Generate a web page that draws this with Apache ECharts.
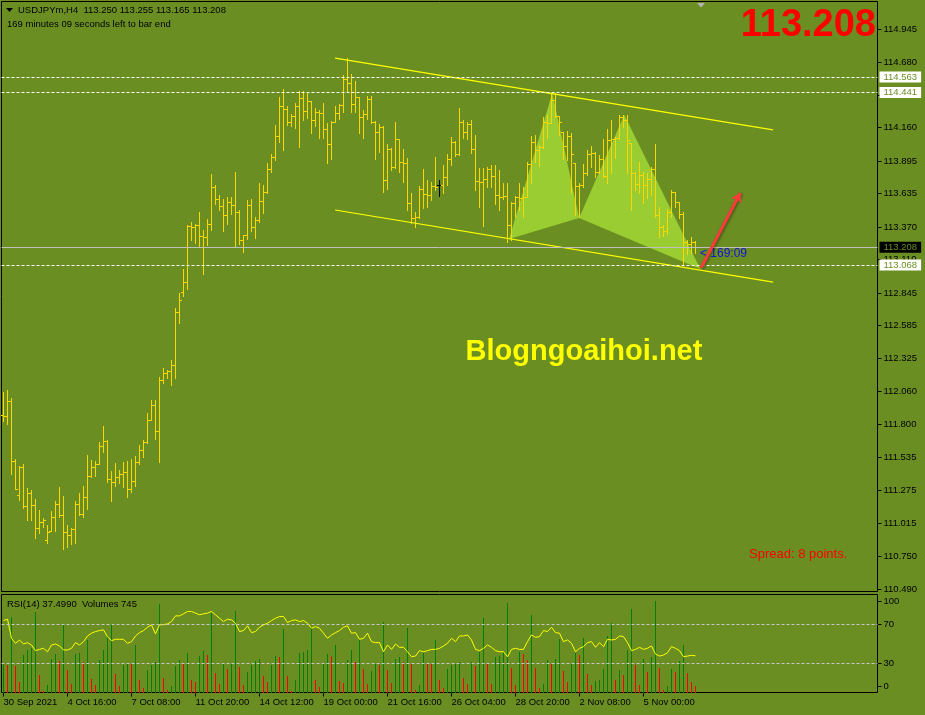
<!DOCTYPE html>
<html><head><meta charset="utf-8">
<script src="https://cdn.jsdelivr.net/npm/echarts@6/dist/echarts.min.js"></script>
<style>html,body{margin:0;padding:0;background:#6b8e23;}#c{width:925px;height:715px;}</style>
</head><body><div id="c"></div><script>
// ---- data ----
const opens = [
111.874,111.866,111.986,111.508,111.238,111.461,111.150,111.253,111.158,110.975,
111.023,110.880,110.951,111.063,111.166,111.078,110.943,110.919,110.967,111.166,
111.086,111.222,111.389,111.461,111.484,111.628,111.667,111.365,111.341,111.381,
111.405,111.421,111.285,111.349,111.500,111.596,111.659,111.834,111.954,111.747,
112.153,112.208,112.224,112.272,112.694,112.850,112.932,113.378,113.370,113.386,
113.298,113.291,113.394,113.688,113.593,113.537,113.466,113.569,113.545,113.489,
113.267,113.306,113.545,113.370,113.426,113.577,113.648,113.831,113.927,114.094,
114.333,114.309,114.205,114.253,114.333,114.396,114.293,114.372,114.221,114.285,
114.280,114.150,114.030,114.205,114.277,114.341,114.547,114.516,114.349,114.404,
114.245,114.269,114.388,114.205,114.126,114.165,113.744,113.990,113.847,114.070,
113.887,113.879,113.561,113.442,113.450,113.672,113.632,113.625,113.696,113.704,
113.704,113.768,113.911,114.046,113.950,114.205,114.126,114.189,113.990,113.736,
113.728,113.752,113.831,113.775,113.625,113.609,113.617,113.386,113.561,113.609,
113.601,113.609,113.871,114.046,113.982,114.006,114.205,114.197,114.380,114.253,
114.126,114.014,114.094,113.879,113.696,113.704,113.799,113.950,113.958,113.807,
113.911,113.775,114.062,114.070,114.078,114.245,114.221,114.038,113.799,113.712,
113.784,113.704,113.752,113.831,113.466,113.370,113.338,113.489,113.648,113.569,
113.473,113.251,113.235,113.250];
const highs = [
112.057,112.073,112.009,111.524,111.469,111.484,111.293,111.277,111.206,111.118,
111.055,110.999,111.110,111.190,111.301,111.230,110.999,110.975,111.190,111.253,
111.309,111.556,111.516,111.508,111.659,111.786,111.675,111.429,111.492,111.437,
111.500,111.508,111.524,111.548,111.635,111.675,111.890,111.994,111.994,112.176,
112.248,112.232,112.312,112.726,112.845,113.036,113.386,113.410,113.394,113.489,
113.346,113.434,113.792,113.704,113.625,113.593,113.609,113.609,113.808,113.505,
113.306,113.585,113.593,113.450,113.720,113.704,113.879,113.950,114.181,114.404,
114.468,114.333,114.269,114.357,114.452,114.452,114.436,114.372,114.317,114.301,
114.357,114.197,114.213,114.333,114.349,114.579,114.714,114.587,114.532,114.404,
114.301,114.412,114.412,114.213,114.189,114.173,114.030,113.998,114.205,114.070,
113.990,113.919,113.640,113.489,113.696,113.831,113.744,113.728,113.927,113.744,
113.863,113.950,114.086,114.054,114.317,114.221,114.205,114.221,114.102,113.839,
113.839,113.847,113.863,113.863,113.823,113.720,113.720,113.569,113.617,113.720,
113.688,113.887,114.094,114.102,114.022,114.245,114.261,114.436,114.436,114.253,
114.126,114.134,114.118,113.879,113.720,113.871,113.982,114.014,113.966,113.943,
114.070,114.150,114.221,114.086,114.261,114.261,114.261,114.038,113.807,113.887,
113.807,113.799,113.847,114.030,113.529,113.386,113.513,113.664,113.648,113.569,
113.489,113.267,113.291,113.255];
const lows = [
111.826,111.802,111.405,111.285,111.198,111.134,111.039,111.039,110.896,110.935,
110.983,110.856,110.951,110.951,111.063,110.808,110.824,110.848,110.856,111.078,
111.063,111.126,111.381,111.389,111.484,111.580,111.341,111.190,111.309,111.333,
111.301,111.222,111.261,111.309,111.484,111.540,111.651,111.834,111.683,111.500,
112.129,112.169,112.113,112.169,112.606,112.821,112.877,113.267,113.243,113.211,
112.996,113.227,113.346,113.553,113.505,113.338,113.394,113.473,113.219,113.235,
113.171,113.275,113.338,113.283,113.410,113.481,113.640,113.807,113.903,114.046,
113.982,114.181,114.173,114.158,114.006,114.221,114.237,114.118,114.173,114.078,
114.078,113.879,113.911,114.205,114.229,114.285,114.444,114.285,114.285,114.118,
114.078,114.229,114.197,113.911,113.966,113.648,113.672,113.823,113.839,113.807,
113.728,113.505,113.402,113.370,113.442,113.521,113.529,113.585,113.664,113.617,
113.640,113.704,113.863,113.935,113.943,114.078,114.070,113.958,113.664,113.529,
113.378,113.688,113.688,113.553,113.505,113.593,113.251,113.267,113.450,113.505,
113.450,113.609,113.720,113.887,113.855,113.998,114.078,114.197,114.245,114.102,
113.911,113.903,113.640,113.466,113.450,113.688,113.784,113.847,113.768,113.799,
113.768,113.720,113.799,113.919,114.070,114.165,113.799,113.505,113.664,113.640,
113.561,113.601,113.625,113.450,113.291,113.298,113.314,113.450,113.529,113.442,
113.068,113.156,113.164,113.165];
const closes = [
111.866,111.986,111.508,111.285,111.461,111.150,111.253,111.158,110.975,111.023,
111.039,110.943,111.063,111.166,111.078,110.943,110.919,110.967,111.166,111.086,
111.222,111.389,111.461,111.484,111.628,111.667,111.365,111.341,111.381,111.405,
111.421,111.285,111.349,111.500,111.596,111.659,111.834,111.954,111.747,112.153,
112.208,112.224,112.272,112.694,112.789,112.932,113.378,113.370,113.386,113.298,
113.291,113.394,113.688,113.593,113.537,113.466,113.569,113.545,113.489,113.267,
113.306,113.545,113.370,113.426,113.577,113.648,113.831,113.927,114.094,114.333,
114.309,114.205,114.253,114.333,114.396,114.293,114.372,114.221,114.285,114.280,
114.150,114.030,114.205,114.277,114.341,114.547,114.516,114.349,114.404,114.245,
114.269,114.388,114.205,114.126,114.165,113.744,113.990,113.847,114.070,113.887,
113.879,113.561,113.442,113.450,113.672,113.632,113.625,113.696,113.690,113.704,
113.768,113.911,114.046,113.950,114.205,114.126,114.189,113.990,113.736,113.728,
113.752,113.831,113.775,113.625,113.609,113.617,113.386,113.561,113.609,113.601,
113.609,113.871,114.046,113.982,114.006,114.205,114.197,114.380,114.253,114.205,
114.014,114.094,113.950,113.696,113.704,113.799,113.950,113.958,113.807,113.911,
113.775,114.062,114.070,114.078,114.245,114.221,114.062,113.799,113.712,113.784,
113.704,113.752,113.831,113.466,113.370,113.338,113.489,113.648,113.569,113.473,
113.251,113.235,113.251,113.208];
const rsi = [
73.4,74.8,55.3,50.2,53.6,49.5,50.9,48.5,42.7,44.0,
45.1,41.6,48.5,49.5,47.5,43.4,43.4,45.1,50.9,48.5,
51.9,57.7,60.5,62.2,63.2,63.9,57.0,52.9,54.3,54.3,
54.3,50.2,51.9,57.7,61.1,63.2,66.6,69.0,59.8,69.0,
69.3,70.0,72.4,78.2,78.2,80.3,82.7,82.7,81.0,79.3,
80.3,81.0,82.7,79.3,75.8,72.4,74.8,74.1,70.7,62.2,
63.2,68.0,61.1,62.2,66.6,69.0,70.7,73.4,75.8,77.5,
77.5,71.4,73.4,74.1,72.4,73.4,70.7,65.6,67.3,65.6,
60.5,55.3,58.7,61.1,63.2,66.6,68.0,60.5,61.1,54.3,
55.3,60.5,51.9,50.9,50.9,41.6,48.5,44.0,49.5,46.1,
46.1,41.6,36.5,37.2,42.7,41.6,42.7,44.0,44.0,45.1,
47.5,50.2,55.3,51.9,57.7,57.7,58.7,53.6,44.0,42.7,
45.1,48.5,46.1,42.7,41.6,41.6,36.5,44.0,45.1,44.0,
44.0,51.9,58.7,56.3,57.0,63.2,62.2,66.6,61.1,60.5,
51.9,53.6,50.2,41.6,45.1,46.8,50.9,51.9,46.1,50.9,
46.8,54.3,53.6,54.3,57.7,57.0,50.9,42.7,44.0,46.1,
44.0,45.1,47.5,39.2,37.2,38.2,40.6,46.8,45.1,42.7,
36.5,37.2,37.9,37.5];
const volumes = [
3444,3400,9266,3198,1271,4551,5248,5494,9840,2091,
164,861,4141,4674,3813,8364,2788,984,4674,4838,
3731,6478,1681,861,4018,5166,6806,8364,2296,738,
3321,3526,3444,5781,1476,533,2788,3321,3731,10906,
1804,246,738,3198,3936,3526,4838,1476,1271,4428,
5043,4551,9758,2378,984,3608,2911,3526,10004,3116,
861,2501,3321,3854,4141,1968,1271,3321,4428,4346,
7790,1968,164,1558,4838,4961,5166,8036,1558,656,
3444,4674,4428,5781,1394,1148,3936,5248,3731,6601,
2829,984,2583,3444,3321,8610,2706,1148,4141,4346,
3731,7954,3526,246,861,4838,3608,3444,6396,1476,
574,2911,3321,3444,3731,1804,984,3731,3198,4961,
9143,3526,1066,4346,4428,4961,10988,2993,861,4961,
4674,3936,9471,2993,533,984,3936,3444,4059,6601,
2583,1271,3444,4838,4551,6683,2296,861,1353,1476,
2829,6888,8569,1476,2706,2091,5166,10209,3321,861,
4141,2460,4346,11193,3034,328,738,2829,2460,3813,
5781,2337,1230,745];
const timeTickIndex = [0,16,32,48,64,80,96,112,128,144,160];
const timeTickLabels = ["30 Sep 2021","4 Oct 16:00","7 Oct 08:00","11 Oct 20:00","14 Oct 12:00","19 Oct 00:00","21 Oct 16:00","26 Oct 04:00","28 Oct 20:00","2 Nov 08:00","5 Nov 00:00"];
const priceTicks = [114.945,114.680,114.420,114.160,113.895,113.635,113.370,113.110,112.845,112.585,112.325,112.060,111.800,111.535,111.275,111.015,110.750,110.490];
const rsiTickValues = [93,70,30,6.5];
const rsiTickLabels = ["100","70","30","0"];
const rsiLevels = [70,30];
const dashedLevels = [114.563,114.441,113.068];
const bidPrice = 113.208;
const upperChannel = [[82.9,114.714],[192.4,114.142]];
const lowerChannel = [[82.9,113.505],[192.4,112.932]];
const patternTriangles = [
  [126.4,113.275, 137.2,114.436, 143.9,113.442],
  [143.9,113.442, 155.2,114.261, 174.2,113.036]
];
const arrowFrom = [174.4,113.045];
const arrowTo = [184.2,113.640];

// ---- chart ----
const FONT = '"Liberation Sans", Arial, sans-serif';
const chart = echarts.init(document.getElementById('c'), null, {renderer:'canvas'});
const ohlcData = opens.map((o,i)=>[i,o,highs[i],lows[i],closes[i]]);
const volData = volumes.map((v,i)=>[i,v,i>0?volumes[i-1]:0]);
const rsiData = rsi.map((v,i)=>[i,v]);

const option = {
  animation:false,
  backgroundColor:'#6b8e23',
  grid:[
    {left:1.5, top:1.5, width:876, height:590, show:true, borderColor:'#000', borderWidth:1, backgroundColor:'transparent'},
    {left:1.5, top:594.5, width:876, height:98, show:true, borderColor:'#000', borderWidth:1, backgroundColor:'transparent'}
  ],
  xAxis:[
    {type:'value', gridIndex:0, min:-0.5, max:218.5, show:false, axisLine:{onZero:false}},
    {type:'value', gridIndex:1, min:-0.5, max:218.5,
      axisLine:{show:false, onZero:false}, splitLine:{show:false},
      axisTick:{show:true, customValues:timeTickIndex, length:4, lineStyle:{color:'#000'}},
      axisLabel:{show:true, customValues:timeTickIndex, align:'left', margin:5,
        formatter:(v)=>timeTickLabels[timeTickIndex.indexOf(Math.round(v))] || '',
        color:'#000', fontSize:9.5, fontFamily:FONT}}
  ],
  yAxis:[
    {type:'value', gridIndex:0, position:'right', min:110.470, max:115.164,
      axisLine:{show:false, onZero:false}, splitLine:{show:false},
      axisTick:{show:true, customValues:priceTicks, length:4, lineStyle:{color:'#000'}},
      axisLabel:{show:true, customValues:priceTicks, margin:6, formatter:(v)=>v.toFixed(3),
        color:'#000', fontSize:9.5, fontFamily:FONT}},
    {type:'value', gridIndex:1, position:'right', min:0, max:100,
      axisLine:{show:false, onZero:false}, splitLine:{show:false},
      axisTick:{show:true, customValues:rsiTickValues, length:4, lineStyle:{color:'#000'}},
      axisLabel:{show:true, customValues:rsiTickValues, margin:6,
        formatter:(v)=>rsiTickLabels[rsiTickValues.indexOf(v)] || '',
        color:'#000', fontSize:9.5, fontFamily:FONT}},
    {type:'value', gridIndex:1, min:0, max:12050, show:false, axisLine:{onZero:false}}
  ],
  series:[
    {type:'custom', name:'pattern', xAxisIndex:0, yAxisIndex:0, z:1, silent:true,
      encode:{x:[0,2,4], y:[1,3,5]},
      data:patternTriangles,
      renderItem:(params, api)=>{
        const pts=[api.coord([api.value(0),api.value(1)]),api.coord([api.value(2),api.value(3)]),api.coord([api.value(4),api.value(5)])];
        return {type:'polygon', shape:{points:pts}, style:{fill:'#9acd32'}};
      }},
    {type:'custom', name:'bars', xAxisIndex:0, yAxisIndex:0, z:3, silent:true,
      encode:{x:0, y:[1,2,3,4]},
      data:ohlcData,
      renderItem:(params, api)=>{
        const i=api.value(0), o=api.value(1), h=api.value(2), l=api.value(3), c=api.value(4);
        const pH=api.coord([i,h]), pL=api.coord([i,l]), pO=api.coord([i,o]), pC=api.coord([i,c]);
        const col=Math.floor(pH[0]);
        const xc=col+0.5;
        const color=Math.abs(o-c)<0.0005?'#000000':'#ffd700';
        const yo=Math.round(pO[1])+0.5, yc=Math.round(pC[1])+0.5;
        return {type:'group', children:[
          {type:'line', shape:{x1:xc,y1:Math.round(pH[1]),x2:xc,y2:Math.round(pL[1])+1}, style:{stroke:color,lineWidth:1}},
          {type:'line', shape:{x1:col-2,y1:yo,x2:col,y2:yo}, style:{stroke:color,lineWidth:1}},
          {type:'line', shape:{x1:col+1,y1:yc,x2:col+3,y2:yc}, style:{stroke:color,lineWidth:1}}
        ]};
      },
      markLine:{silent:true, symbol:'none', animation:false, precision:3,
        label:{show:true, position:'end', distance:2, formatter:(p)=>Number(p.value).toFixed(3),
          color:'#6b8e23', backgroundColor:'#ffffff', padding:[1,4,0,4], fontSize:9.5, fontFamily:FONT},
        data:[
          ...dashedLevels.map(v=>({yAxis:v, lineStyle:{color:'#ffffff', type:[3,2], width:1}})),
          {yAxis:bidPrice, lineStyle:{color:'#c0c0c0', type:'solid', width:1}, label:{backgroundColor:'#000000', color:'#6b8e23'}}
        ]}
    },
    {type:'line', name:'upper', xAxisIndex:0, yAxisIndex:0, z:4, data:upperChannel, symbol:'none', silent:true,
      lineStyle:{color:'#ffff00', width:1.2}},
    {type:'line', name:'lower', xAxisIndex:0, yAxisIndex:0, z:4, data:lowerChannel, symbol:'none', silent:true,
      lineStyle:{color:'#ffff00', width:1.2},
      markLine:{silent:true, animation:false, symbol:['none','arrow'], symbolSize:9, label:{show:false},
        lineStyle:{color:'#ff3a3a', width:3, type:'solid', shadowBlur:3, shadowColor:'rgba(0,0,0,0.45)', shadowOffsetX:1, shadowOffsetY:1},
        data:[[{coord:arrowFrom},{coord:arrowTo}]]}},
    {type:'custom', name:'volumes', xAxisIndex:1, yAxisIndex:2, z:2, silent:true,
      encode:{x:0, y:1},
      data:volData,
      renderItem:(params, api)=>{
        const i=api.value(0), v=api.value(1), prev=api.value(2);
        const top=api.coord([i,v]), bot=api.coord([i,0]);
        const col=Math.floor(top[0]);
        const color=v>prev?'#008000':'#ff0000';
        return {type:'line', shape:{x1:col+0.5,y1:Math.round(top[1]),x2:col+0.5,y2:Math.round(bot[1])}, style:{stroke:color,lineWidth:1}};
      }},
    {type:'line', name:'RSI', xAxisIndex:1, yAxisIndex:1, z:4, data:rsiData, symbol:'none', silent:true,
      lineStyle:{color:'#ffff00', width:1},
      markLine:{silent:true, animation:false, symbol:'none', label:{show:false},
        lineStyle:{color:'#c8c8c8', type:[3,2], width:1},
        data:rsiLevels.map(v=>({yAxis:v}))}}
  ],
  graphic:[
    {type:'polygon', shape:{points:[[6,8],[13,8],[9.5,12]]}, style:{fill:'#000'}},
    {type:'text', style:{text:'USDJPYm,H4  113.250 113.255 113.165 113.208', x:18, y:10.5, fill:'#000', font:'9.5px '+FONT, textVerticalAlign:'middle'}},
    {type:'text', style:{text:'169 minutes 09 seconds left to bar end', x:7, y:24, fill:'#000', font:'9.5px '+FONT, textVerticalAlign:'middle'}},
    {type:'polygon', shape:{points:[[697,3],[705,3],[701,7.5]]}, style:{fill:'#b4b4b4'}},
    {type:'text', style:{text:'113.208', x:876, y:26, fill:'#ff0000', font:'bold 38px '+FONT, textAlign:'right', textVerticalAlign:'middle'}},
    {type:'text', style:{text:'Blogngoaihoi.net', x:584, y:352, fill:'#ffff00', font:'bold 29px '+FONT, textAlign:'center', textVerticalAlign:'middle'}},
    {type:'text', style:{text:'Spread: 8 points.', x:749, y:554, fill:'#ff0000', font:'13px '+FONT, textVerticalAlign:'middle'}},
    {type:'text', style:{text:'< 169:09', x:700, y:254, fill:'#1010dd', font:'12px '+FONT, textVerticalAlign:'middle'}},
    {type:'text', style:{text:'RSI(14) 37.4990  Volumes 745', x:7, y:604, fill:'#000', font:'9.5px '+FONT, textVerticalAlign:'middle'}}
  ]
};
chart.setOption(option);
</script></body></html>
